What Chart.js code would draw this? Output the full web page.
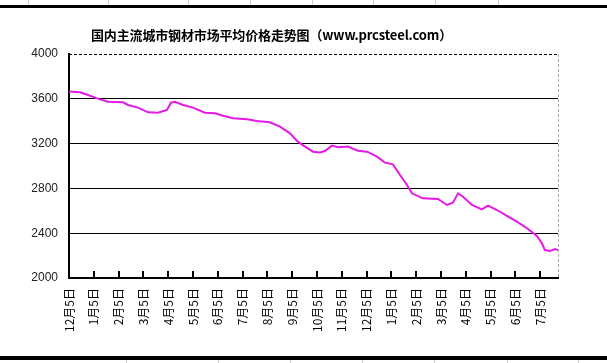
<!DOCTYPE html>
<html>
<head>
<meta charset="utf-8">
<script src="https://cdn.jsdelivr.net/npm/chart.js@4"></script>
<style>
  body { margin: 0; background: #fff; }
  #wrap { position: relative; width: 607px; height: 363px; overflow: hidden; }
  #title {
    position: absolute; top: 25px; left: 91px; white-space: nowrap;
    font: bold 13px "Noto Sans CJK SC", sans-serif; color: #000;
    letter-spacing: -0.15px;
  }
  .bar { position: absolute; left: 0; width: 607px; background: #000; }
  .vl { position: absolute; width: 1px; background: #ccc; }
</style>
</head>
<body>
<div id="wrap">
  <canvas id="price-chart" width="607" height="363"></canvas>
  <div id="title">国内主流城市钢材市场平均价格走势图（www.prcsteel.com）</div>
  <div class="bar" style="top:5px;height:3px"></div>
  <div class="bar" style="top:356px;height:4px"></div>
  <div class="vl" style="left:28px;top:0;height:5px"></div>
  <div class="vl" style="left:108px;top:0;height:5px"></div>
  <div class="vl" style="left:188px;top:0;height:5px"></div>
  <div class="vl" style="left:250px;top:0;height:5px"></div>
  <div class="vl" style="left:312px;top:0;height:5px"></div>
  <div class="vl" style="left:373px;top:0;height:5px"></div>
  <div class="vl" style="left:435px;top:0;height:5px"></div>
  <div class="vl" style="left:498px;top:0;height:5px"></div>
  <div class="vl" style="left:126px;top:360px;height:3px"></div>
  <div class="vl" style="left:218px;top:360px;height:3px"></div>
  <div class="vl" style="left:290px;top:360px;height:3px"></div>
  <div class="vl" style="left:362px;top:360px;height:3px"></div>
  <div class="vl" style="left:434px;top:360px;height:3px"></div>
  <div class="vl" style="left:507px;top:360px;height:3px"></div>
  <div class="vl" style="left:578px;top:360px;height:3px"></div>
</div>
<script>
const LINE_COLOR = "#e619e6";

// x axis labels, one per month
const monthLabels = [
    "12月5日", "1月5日", "2月5日", "3月5日", "4月5日", "5月5日", "6月5日",
    "7月5日", "8月5日", "9月5日", "10月5日", "11月5日", "12月5日", "1月5日",
    "2月5日", "3月5日", "4月5日", "5月5日", "6月5日", "7月5日"
];

// position in months after the first 12月5日
const priceTime = [
    0, 0.44, 0.77, 1.13, 1.57, 2.18, 2.38, 2.78, 3.19, 3.59,
    3.95, 4.11, 4.27, 4.6, 5.0, 5.48, 5.89, 6.21, 6.61, 7.18,
    7.58, 8.1, 8.51, 8.91, 9.23, 9.52, 9.84, 10.12, 10.32, 10.6,
    10.85, 11.25, 11.65, 12.02, 12.42, 12.74, 13.06, 13.35, 13.63, 13.83,
    14.27, 14.88, 15.24, 15.48, 15.69, 15.89, 16.25, 16.65, 16.9, 17.26,
    17.66, 18.06, 18.47, 18.87, 19.07, 19.19, 19.4, 19.6, 19.72
];

// average price (元/吨)
const priceValue = [
    3665, 3658, 3634, 3604, 3574, 3569, 3545, 3521, 3479, 3476,
    3500, 3565, 3574, 3545, 3521, 3476, 3470, 3449, 3426, 3417,
    3402, 3390, 3351, 3292, 3217, 3173, 3128, 3120, 3134, 3182,
    3167, 3173, 3137, 3128, 3083, 3030, 3015, 2920, 2830, 2756,
    2711, 2705, 2652, 2673, 2756, 2726, 2652, 2613, 2646, 2607,
    2554, 2503, 2444, 2375, 2310, 2250, 2241, 2259, 2250
];

const xMax = 19.72;
const yTicks = [2000, 2400, 2800, 3200, 3600, 4000];

// inside tick marks on the x axis + dashed top/right frame
const framePlugin = {
    id: "frame",
    afterDatasetsDraw(chart) {
        const ctx = chart.ctx;
        const area = chart.chartArea;
        const xs = chart.scales.x;
        ctx.save();
        ctx.strokeStyle = "#000";
        ctx.lineWidth = 2;
        for (const t of xs.ticks) {
            if (t.value === 0) continue;
            const px = Math.round(xs.getPixelForValue(t.value));
            ctx.beginPath();
            ctx.moveTo(px, area.bottom);
            ctx.lineTo(px, area.bottom - 7);
            ctx.stroke();
        }
        ctx.lineWidth = 1;
        ctx.setLineDash([3, 2]);
        ctx.beginPath();
        ctx.moveTo(area.left, area.top + 0.5);
        ctx.lineTo(area.right, area.top + 0.5);
        ctx.stroke();
        ctx.strokeStyle = "#aaa";
        ctx.beginPath();
        ctx.moveTo(area.right + 0.5, area.top);
        ctx.lineTo(area.right + 0.5, area.bottom);
        ctx.stroke();
        ctx.restore();
    }
};

new Chart(document.getElementById("price-chart"), {
    type: "line",
    data: {
        datasets: [{
            data: priceTime.map((t, i) => ({ x: t, y: priceValue[i] })),
            borderColor: LINE_COLOR,
            borderWidth: 2,
            pointRadius: 0,
            tension: 0,
        }]
    },
    options: {
        responsive: false,
        animation: false,
        layout: { padding: { top: 54, right: 49, left: 0, bottom: 0 } },
        plugins: {
            legend: { display: false },
            tooltip: { enabled: false }
        },
        scales: {
            x: {
                type: "linear",
                min: 0,
                max: xMax,
                afterFit: s => { s.height = 85; },
                afterBuildTicks: s => {
                    s.ticks = s.ticks.filter(t => Number.isInteger(t.value));
                },
                ticks: {
                    stepSize: 1,
                    autoSkip: false,
                    maxRotation: 90,
                    minRotation: 90,
                    padding: 10,
                    color: "#000",
                    font: { family: "'Noto Sans CJK SC'", size: 12 },
                    callback: v => monthLabels[v]
                },
                grid: { drawOnChartArea: false, drawTicks: false },
                border: { color: "#000", width: 2 }
            },
            y: {
                min: 2000,
                max: 4000,
                afterFit: s => { s.width = 69; },
                afterBuildTicks: s => {
                    s.ticks = yTicks.map(v => ({ value: v }));
                },
                ticks: {
                    padding: 11,
                    color: "#222",
                    font: { family: "'Liberation Sans'", size: 12 },
                    callback: v => String(v)
                },
                grid: {
                    drawTicks: false,
                    color: c => (c.tick && (c.tick.value === 4000 || c.tick.value === 2000)) ? "rgba(0,0,0,0)" : "#000",
                    lineWidth: 1
                },
                border: { color: "#000", width: 2 }
            }
        }
    },
    plugins: [framePlugin]
});
</script>
</body>
</html>
